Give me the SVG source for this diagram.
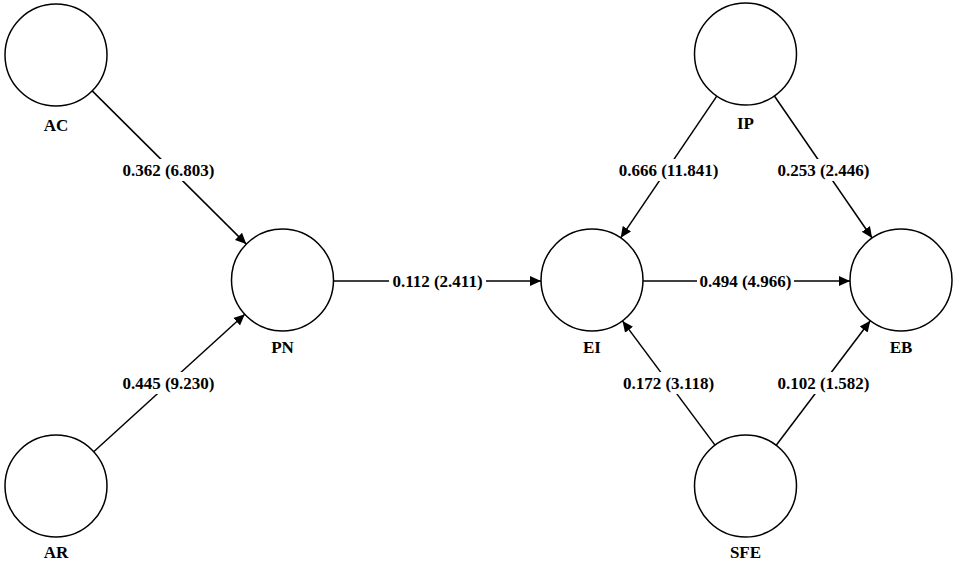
<svg xmlns="http://www.w3.org/2000/svg" width="957" height="568" viewBox="0 0 957 568">
<style>
.node{fill:#fff;stroke:#000;stroke-width:1.5}
.lbl{font-family:"Liberation Serif","Times New Roman",serif;font-weight:bold;font-size:17px;fill:#000;text-anchor:middle}
.edge{stroke:#000;stroke-width:1.5;fill:none;marker-end:url(#arr)}
.bg{fill:#fff}
</style>
<defs>
<marker id="arr" markerUnits="userSpaceOnUse" markerWidth="12" markerHeight="12" viewBox="0 0 12 12" refX="11" refY="6" orient="auto">
<path d="M0,1 L11,6 L0,11 z" fill="#000"/>
</marker>
</defs>
<rect width="957" height="568" fill="#fff"/>
<g id="connectors">
<line class="edge" x1="92.2" y1="90.9" x2="246.3" y2="244.1"/>
<line class="edge" x1="93.7" y1="451.7" x2="244.8" y2="314.3"/>
<line class="edge" x1="333.5" y1="281" x2="541" y2="281"/>
<line class="edge" x1="643" y1="281" x2="850" y2="281"/>
<line class="edge" x1="716.8" y1="96.2" x2="620.7" y2="237.8"/>
<line class="edge" x1="774.4" y1="96" x2="872.1" y2="238"/>
<line class="edge" x1="715" y1="445.1" x2="622.5" y2="320.9"/>
<line class="edge" x1="776.2" y1="445.3" x2="870.3" y2="320.7"/>
<g id="edge-labels">
<rect class="bg" x="120" y="159" width="97" height="22"/>
<text class="lbl" x="168.5" y="176">0.362 (6.803)</text>
<rect class="bg" x="120" y="372" width="97" height="22"/>
<text class="lbl" x="168.5" y="389">0.445 (9.230)</text>
<rect class="bg" x="389" y="271" width="97" height="20"/>
<text class="lbl" x="437.5" y="287">0.112 (2.411)</text>
<rect class="bg" x="697" y="271" width="97" height="20"/>
<text class="lbl" x="745.5" y="287">0.494 (4.966)</text>
<rect class="bg" x="616" y="159" width="105" height="22"/>
<text class="lbl" x="668.5" y="176">0.666 (11.841)</text>
<rect class="bg" x="775" y="159" width="97" height="22"/>
<text class="lbl" x="823.5" y="176">0.253 (2.446)</text>
<rect class="bg" x="620" y="372" width="97" height="22"/>
<text class="lbl" x="668.5" y="389">0.172 (3.118)</text>
<rect class="bg" x="775" y="372" width="97" height="22"/>
<text class="lbl" x="823.5" y="389">0.102 (1.582)</text>
</g>
</g>
<g id="AC"><circle class="node" cx="56" cy="55" r="51"/><text class="lbl" x="56" y="130.5">AC</text></g>
<g id="AR"><circle class="node" cx="56" cy="486" r="51"/><text class="lbl" x="56" y="558">AR</text></g>
<g id="PN"><circle class="node" cx="282.5" cy="280" r="51"/><text class="lbl" x="282.5" y="353">PN</text></g>
<g id="EI"><circle class="node" cx="592" cy="280" r="51"/><text class="lbl" x="592" y="353">EI</text></g>
<g id="IP"><circle class="node" cx="745.5" cy="54" r="51"/><text class="lbl" x="745.5" y="129">IP</text></g>
<g id="SFE"><circle class="node" cx="745.5" cy="486" r="51"/><text class="lbl" x="745.5" y="558">SFE</text></g>
<g id="EB"><circle class="node" cx="901" cy="280" r="51"/><text class="lbl" x="901" y="353">EB</text></g>
</svg>
